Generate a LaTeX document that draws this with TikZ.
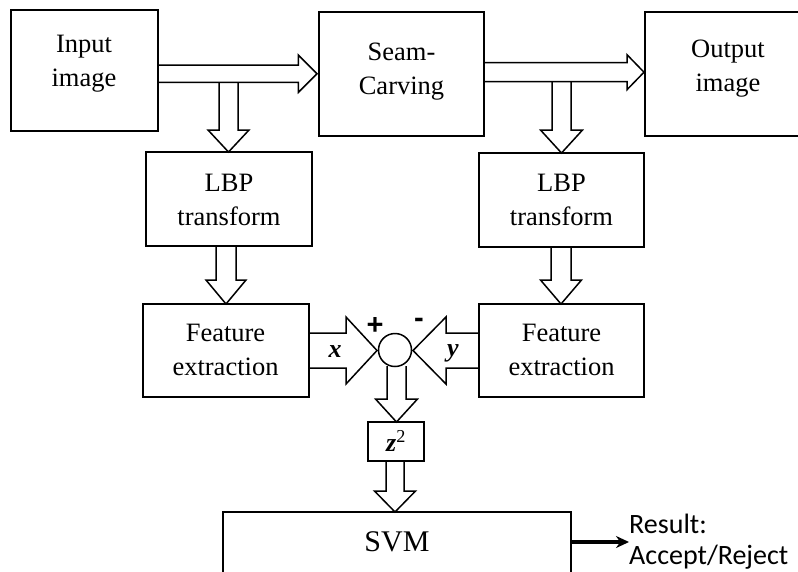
\documentclass[tikz,border=0pt]{standalone}
\usepackage{fontspec}
\setmainfont{Liberation Serif}
\newfontfamily\calfont{Carlito}
\newfontfamily\arialfont{Liberation Sans}
\usetikzlibrary{arrows.meta}

% right/left block arrow: x-start, x-tip, y-centre, shaft half-width, head half-width, head start x
\newcommand{\harrowblk}[6]{%
  \draw[blk] (#1,{#3-#4}) -- (#6,{#3-#4}) -- (#6,{#3-#5}) -- (#2,#3)
     -- (#6,{#3+#5}) -- (#6,{#3+#4}) -- (#1,{#3+#4}) -- cycle;}
% down block arrow (open top): x-centre, y-start, y-tip, shaft half-width, head half-width, head start y
\newcommand{\darrowblk}[6]{%
  \draw[blk] ({#1-#4},#2) -- ({#1-#4},#6) -- ({#1-#5},#6) -- (#1,#3)
     -- ({#1+#5},#6) -- ({#1+#4},#6) -- ({#1+#4},#2);}

\tikzset{
  box/.style={draw, line width=1.5pt, inner sep=0pt},
  blk/.style={draw, fill=white, line width=1.5pt, line join=miter},
  lbl/.style={inner sep=0pt, align=center, font=\fontsize{26.5}{34}\selectfont},
  var/.style={inner sep=0pt, font=\fontsize{26}{30}\selectfont\bfseries\itshape},
  sgn/.style={inner sep=0pt, font=\fontsize{29}{32}\selectfont\arialfont\bfseries},
  restext/.style={inner sep=0pt, align=left, font=\fontsize{28}{31}\selectfont\calfont},
  resarrow/.style={line width=4pt, -{Stealth[length=13pt,width=12pt]}}
}

\begin{document}
\begin{tikzpicture}[x=1pt, y=-1pt]
\useasboundingbox (0,0) rectangle (798,571);

% block arrows (down ones first so the horizontal outlines stay on top)
\darrowblk{228.5}{82.3}{152}{9.5}{20.5}{130}
\darrowblk{561.5}{81.7}{153}{9.5}{21}{130}
\harrowblk{158}{317}{73.7}{8.7}{18.7}{298.3}
\harrowblk{484}{644}{72.2}{9.5}{17.5}{627}
\darrowblk{226}{246}{304}{10}{20}{280}
\darrowblk{561}{247}{304}{10}{20.5}{280}
\harrowblk{309}{377}{350.5}{17.5}{33.5}{346}
\harrowblk{479}{413}{350.5}{17.5}{33.5}{446}
\darrowblk{396.5}{366}{422}{9.5}{21}{399}
\darrowblk{395}{461}{512}{9}{20.5}{491}

% boxes
\node[box, minimum width=147pt, minimum height=121pt] (inp)   at (84.5,70.5) {};
\node[box, minimum width=165pt, minimum height=124pt] (seam)  at (401.5,74) {};
\node[box, minimum width=166pt, minimum height=124pt] (outp)  at (728,74) {};
\node[box, minimum width=166pt, minimum height=94pt]  (lbpL)  at (229,199) {};
\node[box, minimum width=165pt, minimum height=94pt]  (lbpR)  at (561.5,200) {};
\node[box, minimum width=166pt, minimum height=93pt]  (featL) at (226,350.5) {};
\node[box, minimum width=165pt, minimum height=93pt]  (featR) at (561.5,350.5) {};
\node[box, fill=white, circle, minimum size=33pt]     (sum)   at (395,350) {};
\node[box, minimum width=56pt, minimum height=39pt]   (zsq)   at (396,441.5) {};
\node[box, minimum width=348pt, minimum height=108pt] (svm)   at (397,566) {};

% texts
\node[lbl] (tinp)  at (84,64) {Input\\image};
\node[lbl] (tseam) at (401.5,72) {Seam-\\Carving};
\node[lbl] (toutp) at (728,68.5) {Output\\image};
\node[lbl] (tlbpL) at (229,199.5) {LBP\\transform};
\node[lbl] (tlbpR) at (561.5,200) {LBP\\transform};
\node[lbl] (tfeL)  at (225.5,350) {Feature\\extraction};
\node[lbl] (tfeR)  at (561.5,350) {Feature\\extraction};
\node[lbl, font=\fontsize{30}{36}\selectfont] (tsvm) at (397,542) {SVM};
\node[var] (lx) at (335,352) {x};
\node[var] (ly) at (453,353.5) {y};
\node[var] (lz) at (396,441) {z\textsuperscript{\mdseries\upshape 2}};
\node[sgn] (plus)  at (375,325.5) {+};
\node[sgn] (minus) at (419,323) {-};

% result
\node[restext, anchor=west] (result) at (629,542) {Result:\\Accept/Reject};
\draw[resarrow] (svm.east |- result.west) -- (result.west);
\end{tikzpicture}
\end{document}
